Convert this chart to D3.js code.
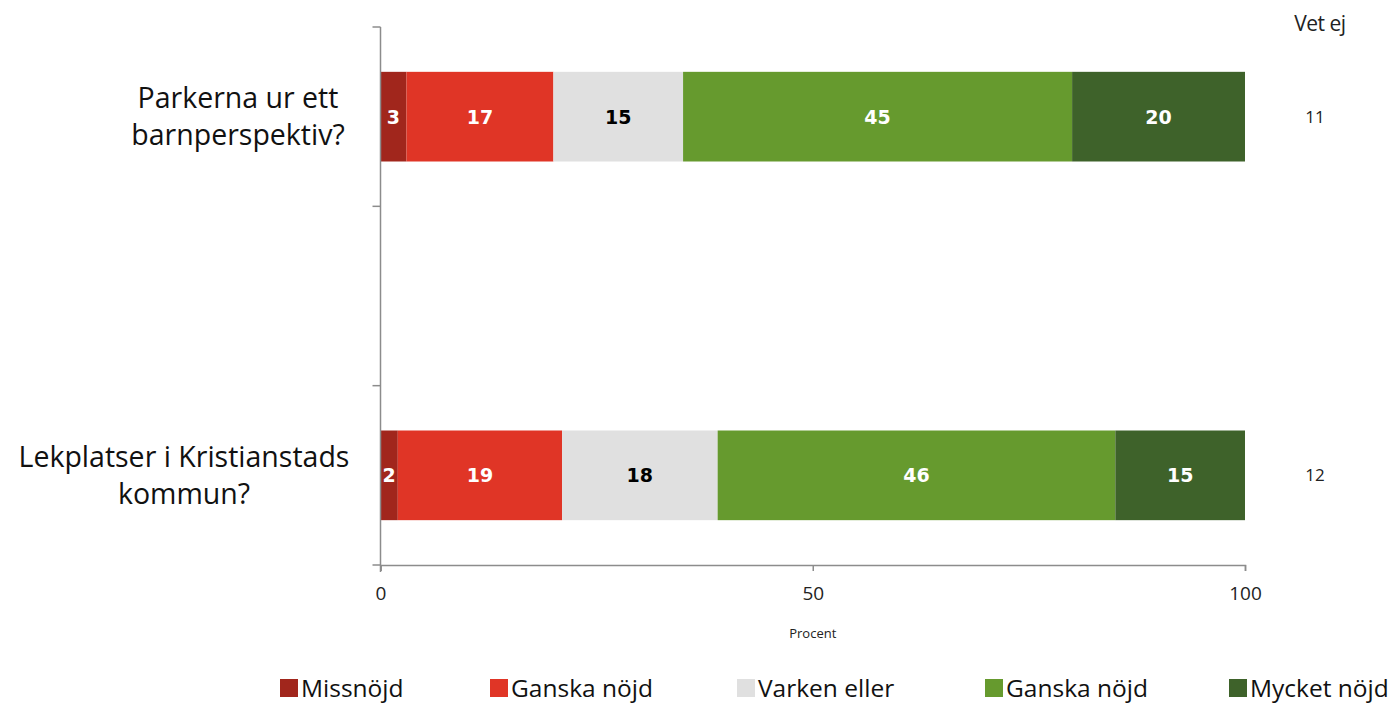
<!DOCTYPE html>
<html>
<head>
<meta charset="utf-8">
<script src="https://cdnjs.cloudflare.com/ajax/libs/d3/7.8.5/d3.min.js"></script>
<style>
  html, body { margin: 0; padding: 0; background: #fff; }
  svg { display: block; }
</style>
</head>
<body>
<svg id="chart" width="1398" height="704"></svg>
<script>
// Survey questions (rows) and answer categories (stacked segments)
const questions = [
  ["Parkerna ur ett", "barnperspektiv?"],
  [],
  ["Lekplatser i Kristianstads", "kommun?"]
];
const categories = ["Missnöjd", "Ganska nöjd", "Varken eller", "Ganska nöjd", "Mycket nöjd"];
const colors = ["#A1261C", "#E03526", "#E0E0E0", "#669A2E", "#3E622A"];
const labelColors = ["#fff", "#fff", "#000", "#fff", "#fff"];
const parkernaValues = [3, 17, 15, 45, 20];
const lekplatserValues = [2, 19, 18, 46, 15];
const vetEj = [11, null, 12];
const xTicks = [0, 50, 100];

// Middle slot is an empty spacer row
const rows = [parkernaValues, null, lekplatserValues];

const svg = d3.select("#chart");
const plot = { left: 380.5, right: 1245, top: 27, bottom: 565 };

const x = d3.scaleLinear().domain([0, 100]).range([plot.left, plot.right]);
const y = d3.scaleBand().domain(d3.range(questions.length))
  .range([plot.top, plot.bottom]).paddingInner(0.5).paddingOuter(0.25);

// Stacked segments
rows.forEach((vals, i) => {
  if (!vals) return;
  let acc = 0;
  const g = svg.append("g");
  vals.forEach((v, k) => {
    const x0 = x(acc), x1 = x(acc + v);
    g.append("rect")
      .attr("x", x0).attr("y", y(i))
      .attr("width", x1 - x0).attr("height", y.bandwidth())
      .attr("fill", colors[k]);
    g.append("text")
      .attr("x", (x0 + x1) / 2).attr("y", y(i) + y.bandwidth() / 2)
      .attr("dy", "0.36em").attr("text-anchor", "middle")
      .attr("font-family", "DejaVu Sans, Verdana, sans-serif")
      .attr("font-weight", "bold").attr("font-size", 19)
      .attr("fill", labelColors[k])
      .text(v);
    acc += v;
  });
});

// Horizontal axis
const xAxis = d3.axisBottom(x).tickValues(xTicks).tickSize(6).tickPadding(16);
const gx = svg.append("g").attr("transform", `translate(0,${plot.bottom})`).call(xAxis);
gx.select(".domain").attr("stroke", "#8c8c8c").attr("stroke-width", 1.5);
gx.selectAll(".tick line").attr("stroke", "#8c8c8c").attr("stroke-width", 1.5);
gx.selectAll(".tick text")
  .attr("font-family", "Open Sans, sans-serif").attr("font-size", 19).attr("fill", "#222");

svg.append("text")
  .attr("x", x(50)).attr("y", 638).attr("text-anchor", "middle")
  .attr("font-family", "Open Sans, sans-serif").attr("font-size", 13).attr("fill", "#222")
  .text("Procent");

// Vertical axis with ticks at category boundaries
svg.append("line")
  .attr("x1", plot.left).attr("x2", plot.left)
  .attr("y1", plot.top).attr("y2", plot.bottom + 7)
  .attr("stroke", "#8c8c8c").attr("stroke-width", 1.5);
const boundaries = d3.range(questions.length + 1).map(i => plot.top + i * y.step());
svg.append("g").selectAll("line").data(boundaries).join("line")
  .attr("x1", plot.left - 8).attr("x2", plot.left)
  .attr("y1", d => d).attr("y2", d => d)
  .attr("stroke", "#8c8c8c").attr("stroke-width", 1.5);

// Question labels
const labelCenters = [238, null, 184];
questions.forEach((lines, i) => {
  if (!lines.length) return;
  const cy = y(i) + y.bandwidth() / 2;
  const t = svg.append("text")
    .attr("text-anchor", "middle")
    .attr("font-family", "Open Sans, sans-serif").attr("font-size", 28.5).attr("fill", "#111");
  lines.forEach((ln, j) => {
    t.append("tspan")
      .attr("x", labelCenters[i])
      .attr("y", cy + (j - 0.5) * 37 + 10)
      .text(ln);
  });
});

// "Vet ej" column
svg.append("text")
  .attr("x", 1320).attr("y", 23).attr("dy", "0.36em").attr("text-anchor", "middle")
  .attr("font-family", "Open Sans, sans-serif").attr("font-size", 21).attr("fill", "#222")
  .attr("letter-spacing", -0.5)
  .text("Vet ej");
vetEj.forEach((v, i) => {
  if (v === null) return;
  svg.append("text")
    .attr("x", 1315).attr("y", y(i) + y.bandwidth() / 2)
    .attr("dy", "0.36em").attr("text-anchor", "middle")
    .attr("font-family", "Open Sans, sans-serif").attr("font-size", 17).attr("fill", "#222")
    .text(v);
});

// Legend
const legendX = [280, 490, 737, 985, 1229];
categories.forEach((c, k) => {
  const g = svg.append("g").attr("transform", `translate(${legendX[k]},679)`);
  g.append("rect").attr("width", 18).attr("height", 18).attr("fill", colors[k]);
  g.append("text").attr("x", 21).attr("y", 9).attr("dy", "0.36em")
    .attr("font-family", "Open Sans, sans-serif").attr("font-size", 24.5).attr("fill", "#111")
    .text(c);
});
</script>
</body>
</html>
